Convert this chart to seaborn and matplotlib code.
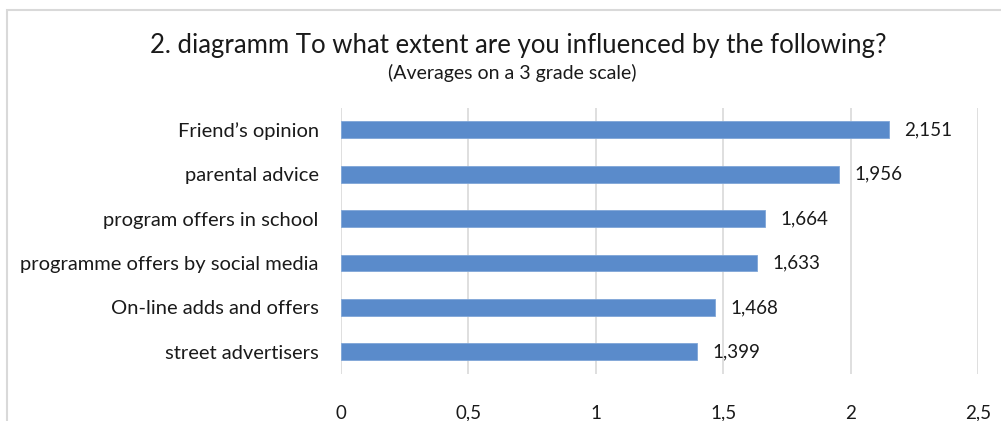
import matplotlib
matplotlib.use("Agg")
import matplotlib.pyplot as plt
import seaborn as sns
import pandas as pd
from matplotlib.patches import Rectangle

categories = ["Friend\u2019s opinion", "parental advice", "program offers in school",
              "programme offers by social media", "On-line adds and offers", "street advertisers"]
values = [2.151, 1.956, 1.664, 1.633, 1.468, 1.399]
xticks = [0, 0.5, 1, 1.5, 2, 2.5]
xtick_labels = ["0", "0,5", "1", "1,5", "2", "2,5"]

sns.set_theme(style="white")
plt.rcParams['font.family'] = ['Lato', 'DejaVu Sans']

df = pd.DataFrame({"cat": categories, "val": values})

fig = plt.figure(figsize=(10.01, 4.21), dpi=100)
ax = fig.add_axes([341/1001, 1-374/421, (978-341)/1001, (374-107.5)/421])

sns.barplot(data=df, x="val", y="cat", order=categories, color="#5A8BCB",
            width=0.38, ax=ax, orient="h", saturation=1,
            edgecolor="#7FA6D8", linewidth=0.6)

ax.set_xlim(0, 2.5)
ax.set_ylim(5.5, -0.5)
ax.set_xticks(xticks)
ax.set_xticklabels(xtick_labels, fontsize=13.5, color="#1a1a1a")
ax.tick_params(axis="x", length=0, pad=22)
ax.tick_params(axis="y", length=0, pad=16, labelsize=14.5, labelcolor="#1a1a1a")
for lbl in ax.get_yticklabels():
    lbl.set_fontstretch("expanded")
ax.set_xlabel("")
ax.set_ylabel("")
for s in ax.spines.values():
    s.set_visible(False)
ax.grid(axis="x", color="#D9D9D9", linewidth=1.2)
ax.set_axisbelow(True)

for c in ax.containers:
    ax.bar_label(c, labels=[f"{v:.3f}".replace(".", ",") for v in values],
                 padding=11, fontsize=13.5, color="#1a1a1a")

fig.text(518/1001, 1-45/421, "2. diagramm To what extent are you influenced by the following?",
         ha="center", va="center", fontsize=18.5, color="#1a1a1a")
fig.text(512/1001, 1-73/421, "(Averages on a 3 grade scale)",
         ha="center", va="center", fontsize=14, color="#1a1a1a")

fig.patches.append(Rectangle((7/1001, -0.1), 1.2, 1-10/421+0.1, transform=fig.transFigure,
                             fill=False, edgecolor="#D9D9D9", linewidth=1.5))

fig.savefig("out.png", dpi=100)
